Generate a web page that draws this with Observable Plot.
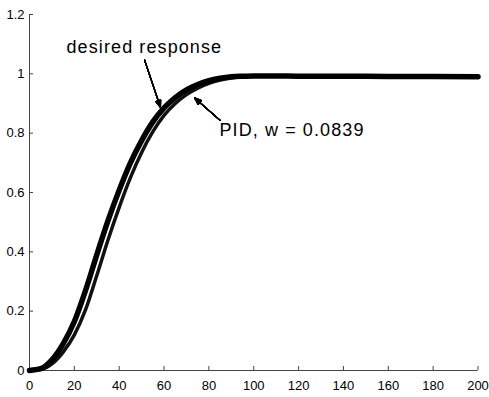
<!DOCTYPE html>
<html><head><meta charset="utf-8">
<script src="https://cdn.jsdelivr.net/npm/d3@7"></script>
<script src="https://cdn.jsdelivr.net/npm/@observablehq/plot@0.6"></script>
<style>body{margin:0;background:#fff;} svg{display:block;}</style>
</head><body><div id="chart"></div>
<script>
const time    = [0, 5, 10, 15, 20, 25, 30, 35, 40, 45, 50, 55, 60, 65, 70, 75, 80, 85, 90, 95, 100, 110, 120, 140, 160, 180, 200];
const desired = [0, 0.006, 0.036, 0.09, 0.165, 0.27, 0.39, 0.505, 0.608, 0.70, 0.775, 0.838, 0.885, 0.92, 0.946, 0.964, 0.977, 0.985, 0.99, 0.992, 0.993, 0.993, 0.992, 0.992, 0.991, 0.991, 0.99];
const pid     = [0, 0.003, 0.022, 0.062, 0.12, 0.205, 0.32, 0.44, 0.55, 0.65, 0.735, 0.805, 0.86, 0.9, 0.93, 0.952, 0.968, 0.979, 0.986, 0.99, 0.992, 0.993, 0.992, 0.992, 0.991, 0.991, 0.99];

const xTicks = [0, 20, 40, 60, 80, 100, 120, 140, 160, 180, 200];
const yTicks = [0, 0.2, 0.4, 0.6, 0.8, 1, 1.2];
const yTickLabels = ["0", "0.2", "0.4", "0.6", "0.8", "1", "1.2"];

const noteText = ["desired response", "PID, w = 0.0839"];
const noteX = [16.5, 84.7];
const noteY = [1.069, 0.789];
const arrowX1 = [51.3, 85.0];
const arrowY1 = [1.047, 0.843];
const arrowX2 = [58.4, 73.6];
const arrowY2 = [0.887, 0.919];

const rows = time.map((t, i) => ({t, desired: desired[i], pid: pid[i]}));
const notes = noteText.map((s, i) => ({s, x: noteX[i], y: noteY[i]}));
const arrows = arrowX1.map((x1, i) => ({x1, y1: arrowY1[i], x2: arrowX2[i], y2: arrowY2[i]}));
const headAngles = d3.range(0, 46, 3);

const axisColor = "#444";
const plot = Plot.plot({
  width: 489, height: 397,
  marginLeft: 29, marginRight: 11.5, marginTop: 14, marginBottom: 27,
  x: {domain: [0, 200]},
  y: {domain: [0, 1.2]},
  style: {fontFamily: "'Liberation Sans', Arial, Helvetica, sans-serif", fontSize: "13px", color: "#000", background: "#fff"},
  marks: [
    Plot.ruleX([0], {stroke: axisColor}),
    Plot.ruleY([0], {stroke: axisColor}),
    Plot.axisY(yTicks, {label: null, tickSize: -4, tickPadding: 9, stroke: axisColor, tickFormat: d => yTickLabels[yTicks.indexOf(d)], fontSize: 13}),
    Plot.axisX(xTicks, {label: null, tickSize: -4, tickPadding: 14, stroke: axisColor, tickFormat: d => String(d), fontSize: 13}),
    Plot.line(rows, {x: "t", y: "pid", stroke: "#111", strokeWidth: 3.5, curve: "monotone-x"}),
    Plot.line(rows, {x: "t", y: "desired", stroke: "#000", strokeWidth: 5.5, curve: "monotone-x"}),
    ...headAngles.map(a => Plot.arrow(arrows, {x1: "x1", y1: "y1", x2: "x2", y2: "y2", stroke: "#000", strokeWidth: 1.1, headLength: 10, headAngle: a})),
    Plot.text(notes, {x: "x", y: "y", text: "s", textAnchor: "start", lineAnchor: "bottom", fontSize: 18, fill: "#000"})
  ]
});
d3.select(plot).selectAll("g[aria-label=text] text").style("letter-spacing", "1.1px");
document.getElementById("chart").append(plot);
</script>
</body></html>
